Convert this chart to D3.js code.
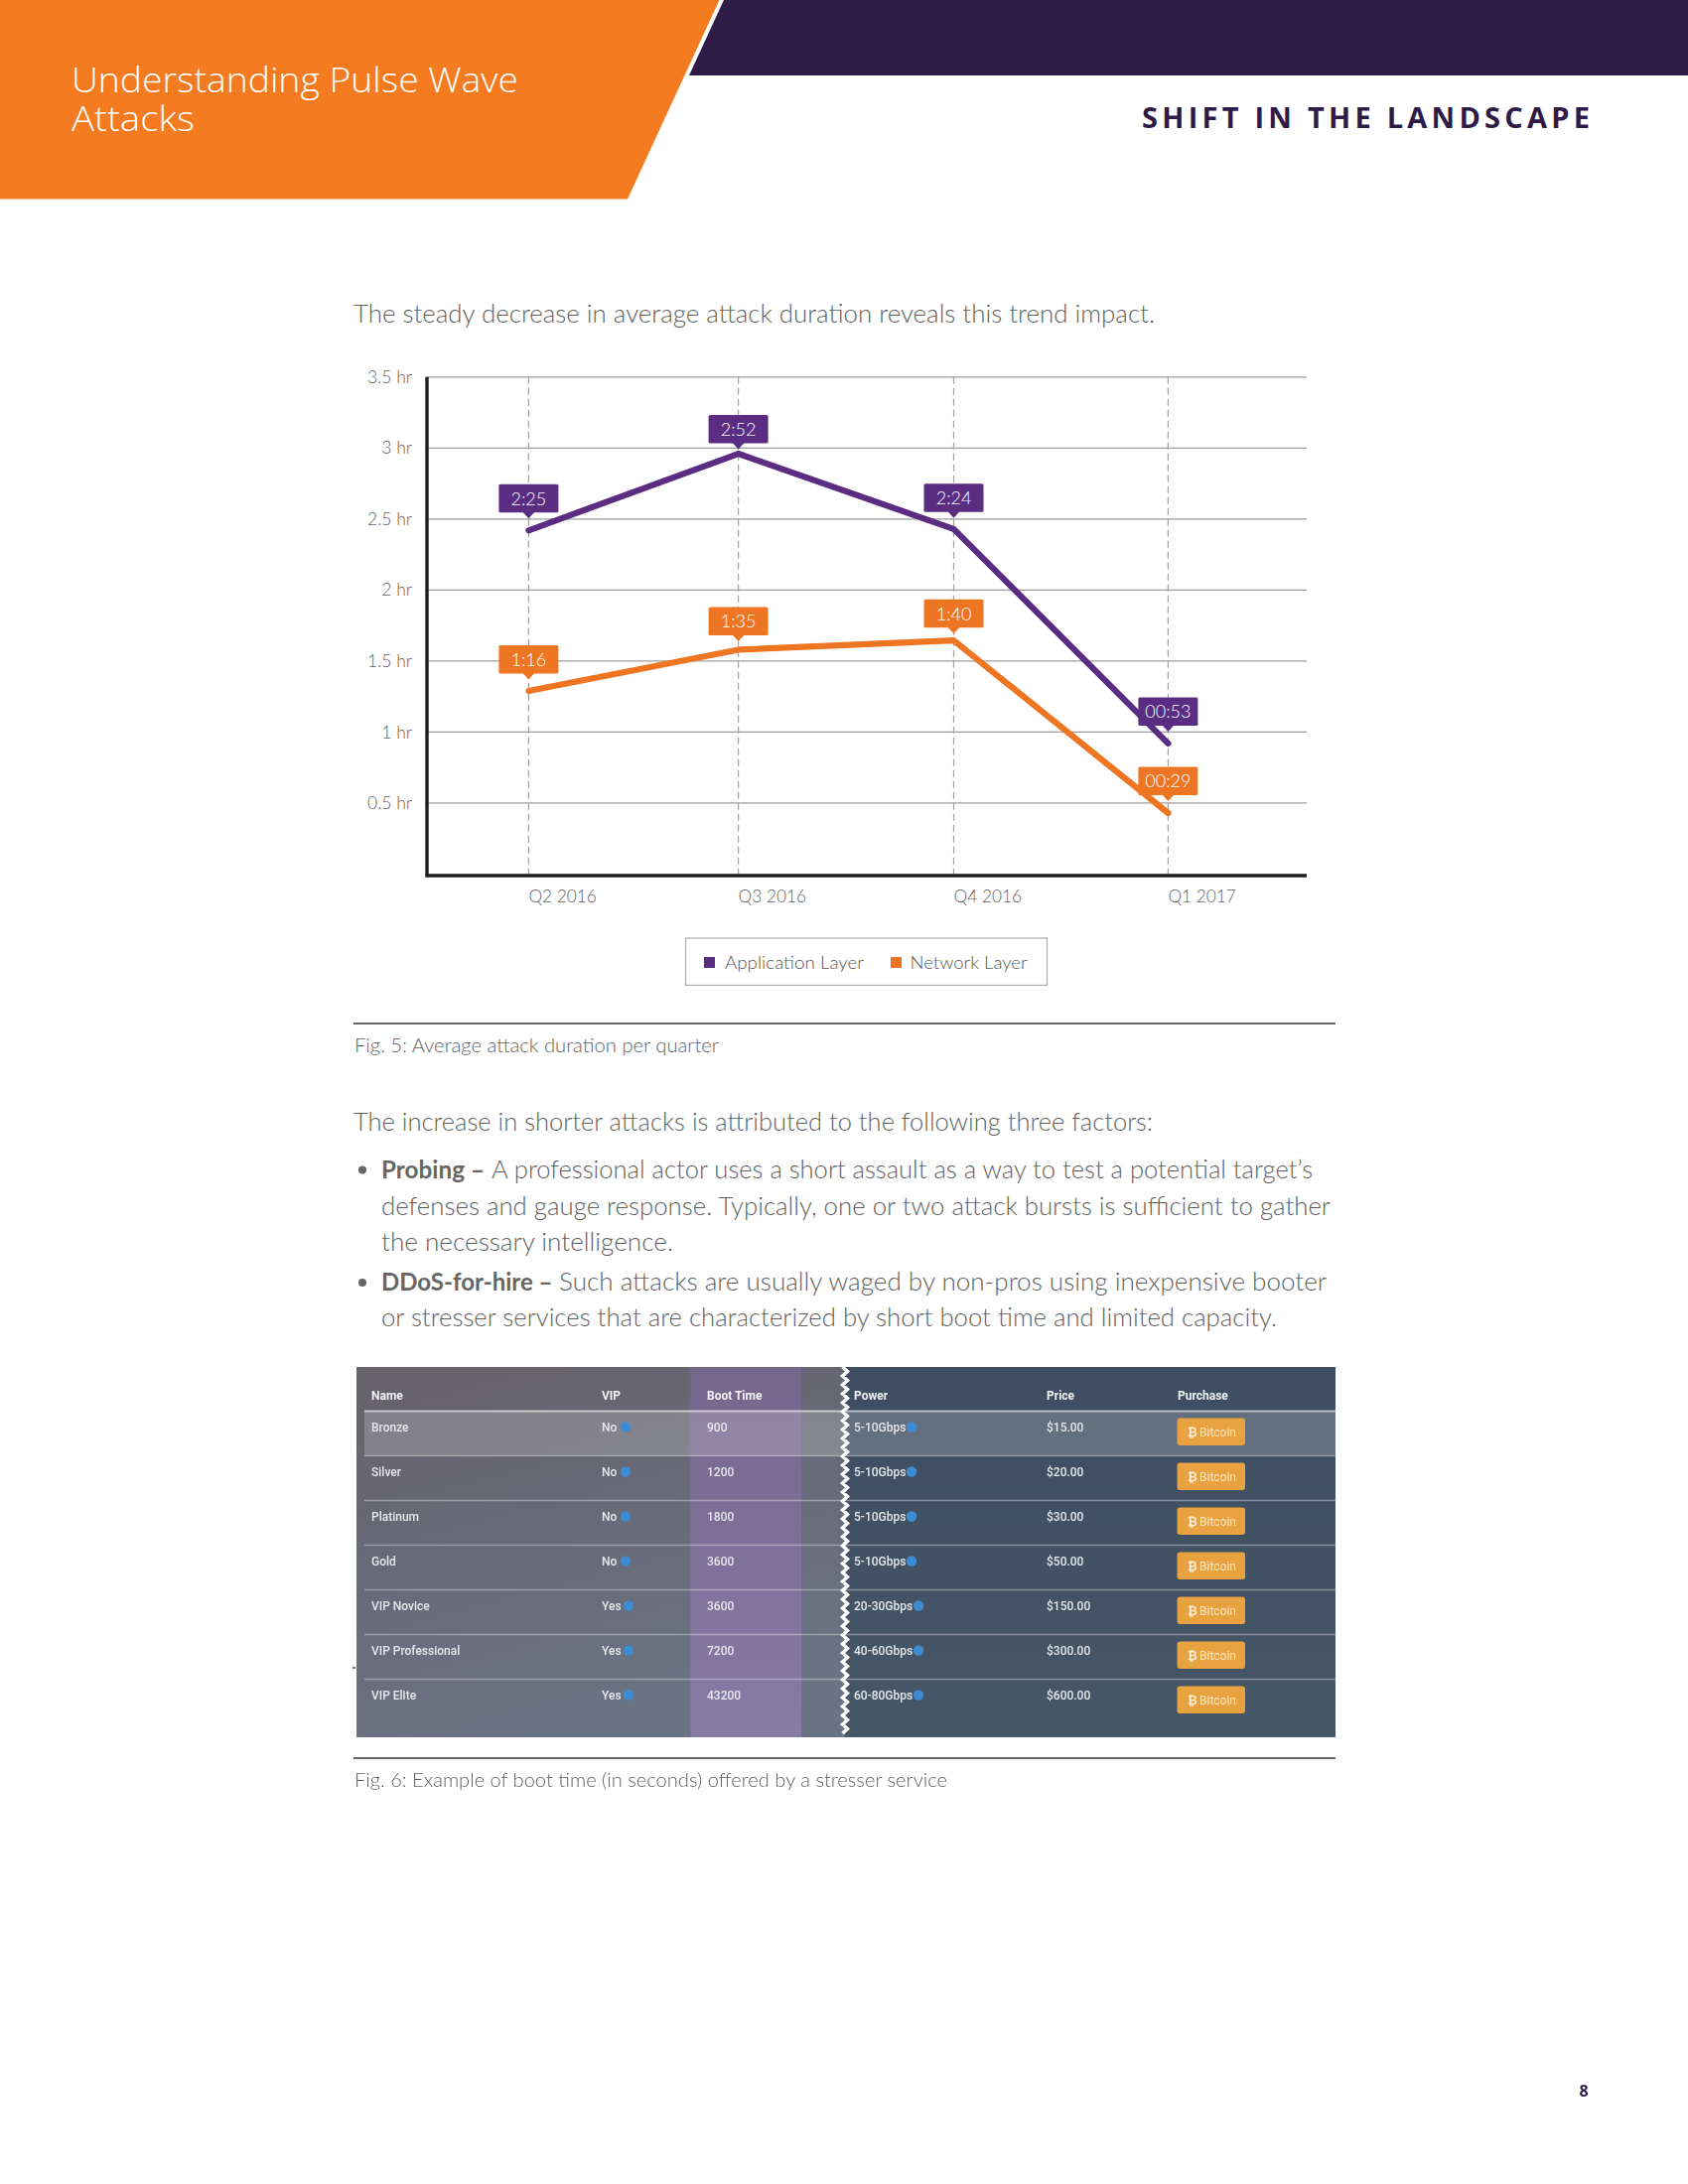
<!DOCTYPE html>
<html>
<head>
<meta charset="utf-8">
<script src="https://cdn.jsdelivr.net/npm/d3@7/dist/d3.min.js"></script>
<style>
html,body{margin:0;padding:0;background:#fff;}
svg{display:block;}
</style>
</head>
<body>
<div id="page"></div>
<script>
// ---- chart data ----
const quarters = ["Q2 2016", "Q3 2016", "Q4 2016", "Q1 2017"];
const applicationLayer = [2.42, 2.96, 2.43, 0.92];
const networkLayer = [1.29, 1.58, 1.645, 0.43];
const applicationLabels = ["2:25", "2:52", "2:24", "00:53"];
const networkLabels = ["1:16", "1:35", "1:40", "00:29"];
const yTicks = [0.5, 1, 1.5, 2, 2.5, 3, 3.5];
const legendNames = ["Application Layer", "Network Layer"];

// ---- table data ----
const tableHead = ["Name", "VIP", "Boot Time", "Power", "Price", "Purchase"];
const planNames = ["Bronze", "Silver", "Platinum", "Gold", "VIP Novice", "VIP Professional", "VIP Elite"];
const planVip = ["No", "No", "No", "No", "Yes", "Yes", "Yes"];
const planBoot = ["900", "1200", "1800", "3600", "3600", "7200", "43200"];
const planPower = ["5-10Gbps", "5-10Gbps", "5-10Gbps", "5-10Gbps", "20-30Gbps", "40-60Gbps", "60-80Gbps"];
const planPrice = ["$15.00", "$20.00", "$30.00", "$50.00", "$150.00", "$300.00", "$600.00"];

// ---- layout (not data) ----
const categoryX = [532.4, 743.6, 960.5, 1176.4];
const appTipGap = [12, 4.5, 11, 12];
const netTipGap = [11.5, 8.5, 7, 12];
const PURPLE = "#5a2d82", ORANGE = "#ee7623";

const svg = d3.select("#page").append("svg").attr("width", 1700).attr("height", 2200);
const BODY = "Lato, sans-serif";

function fitText(x, y, str, endX, o = {}) {
  return svg.append("text").attr("x", x).attr("y", y).text(str)
    .attr("font-family", o.family || BODY)
    .attr("font-size", o.size || 25)
    .attr("font-weight", o.weight || 300)
    .attr("fill", o.fill || "#5f5f5f")
    .attr("textLength", endX - x)
    .attr("lengthAdjust", "spacingAndGlyphs");
}

// ---- page header ----
svg.append("path").attr("d", "M0,0H724.5L632,200.5H0Z").attr("fill", "#f47b20");
svg.append("path").attr("d", "M729,0H1700V76H694Z").attr("fill", "#2e1b47");
fitText(72, 93, "Understanding Pulse Wave", 522, {family: "'Open Sans', sans-serif", size: 34, fill: "#fff"});
fitText(72, 132, "Attacks", 196, {family: "'Open Sans', sans-serif", size: 34, fill: "#fff"});
fitText(1150, 128.5, "SHIFT IN THE LANDSCAPE", 1601, {family: "'Open Sans', sans-serif", size: 29, weight: 700, fill: "#2e1b47"})
  .attr("lengthAdjust", "spacing");
fitText(356, 325, "The steady decrease in average attack duration reveals this trend impact.", 1163);

// ---- line chart ----
const x = d3.scaleOrdinal().domain(quarters).range(categoryX);
const y = d3.scaleLinear().domain([0, 3.5]).range([880.5, 379.8]);
const plotLeft = 430, plotRight = 1316;

svg.append("g").selectAll("line").data(yTicks).join("line")
  .attr("x1", plotLeft).attr("x2", plotRight)
  .attr("y1", d => y(d)).attr("y2", d => y(d))
  .attr("stroke", "#9c9c9c").attr("stroke-width", 1.2);
svg.append("g").selectAll("line").data(quarters).join("line")
  .attr("x1", d => x(d)).attr("x2", d => x(d))
  .attr("y1", y(3.5)).attr("y2", y(0))
  .attr("stroke", "#a0a0a0").attr("stroke-width", 1.2).attr("stroke-dasharray", "7 4");

const yAxis = d3.axisLeft(y).tickValues(yTicks).tickFormat(d => d + " hr").tickSize(0).tickPadding(15).offset(0);
const yG = svg.append("g").attr("transform", `translate(${plotLeft},0)`).call(yAxis);
yG.select(".domain").remove();
yG.selectAll("text").attr("font-family", BODY).attr("font-size", 17.5).attr("font-weight", 300).attr("fill", "#5f5f5f").attr("y", 0.5);

const xAxis = d3.axisBottom(x).tickSize(0).tickPadding(0).offset(0);
const xG = svg.append("g").attr("transform", "translate(0,882)").call(xAxis);
xG.select(".domain").remove();
xG.selectAll("text").attr("font-family", BODY).attr("font-size", 17.3).attr("font-weight", 300).attr("fill", "#5f5f5f")
  .attr("text-anchor", "start").attr("dy", 0).attr("y", 27);

svg.append("path").attr("d", `M${plotLeft},${y(3.5)}V882H${plotRight}`)
  .attr("fill", "none").attr("stroke", "#1f1f1f").attr("stroke-width", 3.4);

const line = d3.line().x(d => x(d.q)).y(d => y(d.v));
function series(values, labels, gaps, color) {
  const pts = quarters.map((q, i) => ({q, v: values[i], label: labels[i], gap: gaps[i]}));
  svg.append("path").datum(pts).attr("d", line).attr("fill", "none")
    .attr("stroke", color).attr("stroke-width", 6.2).attr("stroke-linejoin", "round").attr("stroke-linecap", "round");
  const g = svg.append("g").selectAll("g").data(pts).join("g")
    .attr("transform", d => `translate(${x(d.q)},${y(d.v) - d.gap})`);
  g.append("rect").attr("x", -30).attr("y", -34.5).attr("width", 60).attr("height", 28.5).attr("rx", 1.5).attr("fill", color);
  g.append("path").attr("d", "M-6,-6.5L0,0L6,-6.5Z").attr("fill", color);
  g.append("text").attr("y", -13.5).attr("text-anchor", "middle").text(d => d.label)
    .attr("font-family", BODY).attr("font-size", 18).attr("font-weight", 300).attr("fill", "#fff");
}
series(applicationLayer, applicationLabels, appTipGap, PURPLE);
series(networkLayer, networkLabels, netTipGap, ORANGE);

// legend
svg.append("rect").attr("x", 690.5).attr("y", 945).attr("width", 364).attr("height", 47.5)
  .attr("fill", "#fff").attr("stroke", "#adadad").attr("stroke-width", 1.2);
const legendPos = [{sq: 709, tx: 730, end: 870, c: PURPLE}, {sq: 897, tx: 916.5, end: 1034.5, c: ORANGE}];
legendPos.forEach((l, i) => {
  svg.append("rect").attr("x", l.sq).attr("y", 964).attr("width", 11).attr("height", 11).attr("fill", l.c);
  fitText(l.tx, 975.5, legendNames[i], l.end, {size: 18.5, weight: 300, fill: "#555"});
});

// ---- captions and body ----
function rule(yy) {
  svg.append("line").attr("x1", 356).attr("x2", 1345).attr("y1", yy).attr("y2", yy)
    .attr("stroke", "#666").attr("stroke-width", 2);
}
rule(1031);
fitText(357, 1059.5, "Fig. 5: Average attack duration per quarter", 724, {size: 19});
fitText(356, 1139, "The increase in shorter attacks is attributed to the following three factors:", 1161);
svg.append("circle").attr("cx", 365).attr("cy", 1178.5).attr("r", 4).attr("fill", "#666");
fitText(384, 1187, "Probing –", 488, {weight: 700, fill: "#666"});
fitText(495, 1187, "A professional actor uses a short assault as a way to test a potential target’s", 1322);
fitText(384, 1224, "defenses and gauge response. Typically, one or two attack bursts is sufficient to gather", 1340);
fitText(384, 1260, "the necessary intelligence.", 678);
svg.append("circle").attr("cx", 365).attr("cy", 1292).attr("r", 4).attr("fill", "#666");
fitText(384, 1300, "DDoS-for-hire –", 556.5, {weight: 700, fill: "#666"});
fitText(563, 1300, "Such attacks are usually waged by non-pros using inexpensive booter", 1336);
fitText(384, 1336, "or stresser services that are characterized by short boot time and limited capacity.", 1286);

// ---- pricing table ----
const defs = svg.append("defs");
const gradL = defs.append("linearGradient").attr("id", "tblL").attr("x1", 0).attr("y1", 0).attr("x2", 0.35).attr("y2", 1);
gradL.append("stop").attr("offset", 0).attr("stop-color", "#66616b");
gradL.append("stop").attr("offset", 1).attr("stop-color", "#6a7384");
const gradR = defs.append("linearGradient").attr("id", "tblR").attr("x1", 0).attr("y1", 0).attr("x2", 0).attr("y2", 1);
gradR.append("stop").attr("offset", 0).attr("stop-color", "#3e4d62");
gradR.append("stop").attr("offset", 1).attr("stop-color", "#465767");
const gradP = defs.append("linearGradient").attr("id", "tblP").attr("x1", 0).attr("y1", 0).attr("x2", 0).attr("y2", 1);
gradP.append("stop").attr("offset", 0).attr("stop-color", "#75668c");
gradP.append("stop").attr("offset", 1).attr("stop-color", "#877ca6");
defs.append("filter").attr("id", "soft").append("feGaussianBlur").attr("stdDeviation", 0.35);

const tTop = 1377, tBot = 1750, tLeft = 359, tRight = 1345, cut = 851;
svg.append("rect").attr("x", tLeft).attr("y", tTop).attr("width", cut - tLeft).attr("height", tBot - tTop).attr("fill", "url(#tblL)");
svg.append("rect").attr("x", cut).attr("y", tTop).attr("width", tRight - cut).attr("height", tBot - tTop).attr("fill", "url(#tblR)");
svg.append("rect").attr("x", 695.5).attr("y", tTop).attr("width", 111.5).attr("height", tBot - tTop).attr("fill", "url(#tblP)");

const rowY = d3.scaleLinear().domain([0, 7]).range([1421.5, 1736.5]);
svg.append("rect").attr("x", 367).attr("y", rowY(0)).attr("width", tRight - 367).attr("height", 45)
  .attr("fill", "#fff").attr("fill-opacity", 0.19);
svg.append("g").selectAll("line").data(d3.range(0, 7)).join("line")
  .attr("x1", 367).attr("x2", tRight).attr("y1", d => rowY(d)).attr("y2", d => rowY(d))
  .attr("stroke", "#fff").attr("stroke-opacity", d => d === 0 ? 0.6 : 0.35).attr("stroke-width", d => d === 0 ? 2 : 1.5);

// zigzag tear between the two table halves
const zigY = d3.range(tTop, tBot, 4.5);
svg.append("path").datum(zigY)
  .attr("d", d3.line().x((d, i) => cut + (i % 2 ? 2.4 : -2.4)).y(d => d))
  .attr("fill", "none").attr("stroke", "#fff").attr("stroke-width", 3.6);

const colX = [374, 606, 712, 860, 1054, 1186];
const TBL = "Roboto, sans-serif";
const tableInk = svg.append("g").attr("filter", "url(#soft)");
tableInk.append("g").selectAll("text").data(tableHead).join("text")
  .attr("x", (d, i) => colX[i]).attr("y", 1410).text(d => d)
  .attr("font-family", TBL).attr("font-size", 12).attr("font-weight", 700).attr("fill", "#f2f3f6");

const rows = planNames.map((n, i) => ({n, vip: planVip[i], boot: planBoot[i], power: planPower[i], price: planPrice[i], i}));
const rowG = tableInk.append("g").selectAll("g").data(rows).join("g")
  .attr("transform", d => `translate(0,${rowY(d.i)})`);
function cell(col, acc) {
  rowG.append("text").attr("x", colX[col]).attr("y", 20.5).text(acc)
    .attr("font-family", TBL).attr("font-size", 12).attr("font-weight", 500).attr("fill", "#e6e8ec");
}
cell(0, d => d.n); cell(1, d => d.vip); cell(2, d => d.boot); cell(3, d => d.power); cell(4, d => d.price);
rowG.append("circle").attr("cx", d => d.vip === "No" ? 630 : 633).attr("cy", 16).attr("r", 5.2).attr("fill", "#3d8bd0");
rowG.append("circle").attr("cx", d => d.power === "5-10Gbps" ? 918 : 925).attr("cy", 16).attr("r", 5.2).attr("fill", "#3d8bd0");
rowG.append("rect").attr("x", 1185.5).attr("y", 7).attr("width", 68.5).attr("height", 27.5).attr("rx", 3).attr("fill", "#e8a23f");
rowG.append("text").attr("x", 1196).attr("y", 25.5).text("₿")
  .attr("font-family", "'DejaVu Sans', sans-serif").attr("font-size", 12).attr("font-weight", 700).attr("fill", "#fbeedd");
rowG.append("text").attr("x", 1208).attr("y", 25.5).text("Bitcoin")
  .attr("font-family", TBL).attr("font-size", 12).attr("fill", "#fbe6c8");

svg.append("line").attr("x1", 355).attr("x2", 358).attr("y1", 1680).attr("y2", 1680).attr("stroke", "#444").attr("stroke-width", 1.5);
rule(1771);
fitText(357, 1800, "Fig. 6: Example of boot time (in seconds) offered by a stresser service", 954, {size: 19});

// page number
svg.append("text").attr("x", 1595).attr("y", 2111.5).attr("text-anchor", "middle").text("8")
  .attr("font-family", "'Open Sans', sans-serif").attr("font-size", 16).attr("font-weight", 700).attr("fill", "#2e1b47");
</script>
</body>
</html>
